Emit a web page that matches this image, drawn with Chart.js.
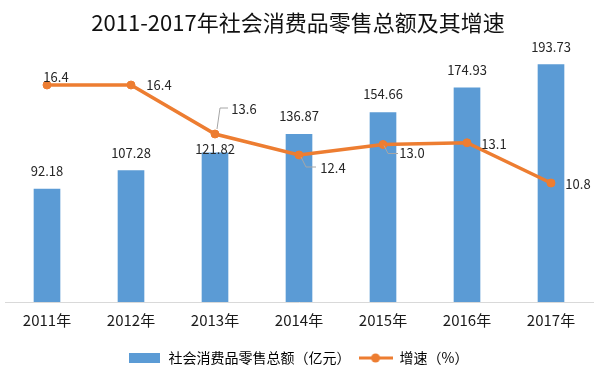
<!DOCTYPE html>
<html>
<head>
<meta charset="utf-8">
<script src="https://cdn.jsdelivr.net/npm/chart.js@4.4.1/dist/chart.umd.min.js"></script>
<style>
    html, body { margin: 0; padding: 0; background: #fff; }
    #caixa { width: 600px; height: 377px; }
</style>
</head>
<body>
<div id="caixa"><canvas id="ChartVendas"></canvas></div>
<script>

/// DADOS

const anos = ['2011年', '2012年', '2013年', '2014年', '2015年', '2016年', '2017年'];
const total_vendas = [92.18, 107.28, 121.82, 136.87, 154.66, 174.93, 193.73];
const crescimento = [16.4, 16.4, 13.6, 12.4, 13.0, 13.1, 10.8];

const nome_barra = '社会消费品零售总额（亿元）';
const nome_linha = '增速（%）';


/// ESTILO

const azul = '#5B9BD5';
const laranja = '#ED7D31';
const fonte = '"Noto Sans CJK SC", "Noto Sans", sans-serif';

// distancia do rotulo acima do topo da barra
const desloc_barra = [18, 18, 4, 18, 18, 18, 18];
// posicao do rotulo em relacao ao ponto da linha
const desloc_linha = [[9, -8], [28, 0], [29, -25], [34, 13], [29, 9], [27, 1], [27, 1]];
// linhas guia (cinza) de alguns rotulos
const guias = [
    null,
    null,
    [[2, -5], [5, -26], [13, -26]],
    [[2, 2], [7, 12], [17, 12]],
    [[1, 1], [5, 9], [15, 9]],
    null,
    null
];

Chart.defaults.font.family = fonte;

function marcador_barra() {
    const c = document.createElement('canvas');
    c.width = 31;
    c.height = 10;
    const g = c.getContext('2d');
    g.fillStyle = azul;
    g.fillRect(0, 0, 31, 10);
    return c;
}

function marcador_linha() {
    const c = document.createElement('canvas');
    c.width = 34;
    c.height = 10;
    const g = c.getContext('2d');
    g.strokeStyle = laranja;
    g.lineWidth = 3;
    g.beginPath();
    g.moveTo(0, 5);
    g.lineTo(34, 5);
    g.stroke();
    g.fillStyle = laranja;
    g.beginPath();
    g.arc(17, 5, 4.5, 0, Math.PI * 2);
    g.fill();
    return c;
}

const rotulos = {
    id: 'rotulos',
    afterDatasetsDraw(chart) {
        const ctx = chart.ctx;
        ctx.save();
        ctx.font = '13px ' + fonte;
        ctx.fillStyle = '#262626';
        ctx.textAlign = 'center';
        ctx.textBaseline = 'middle';

        chart.getDatasetMeta(0).data.forEach(function (barra, i) {
            ctx.fillText(total_vendas[i].toFixed(2), barra.x, barra.y - desloc_barra[i]);
        });

        ctx.strokeStyle = '#a6a6a6';
        ctx.lineWidth = 1;
        chart.getDatasetMeta(1).data.forEach(function (ponto, i) {
            const guia = guias[i];
            if (guia) {
                ctx.beginPath();
                guia.forEach(function (p, k) {
                    if (k === 0) ctx.moveTo(ponto.x + p[0], ponto.y + p[1]);
                    else ctx.lineTo(ponto.x + p[0], ponto.y + p[1]);
                });
                ctx.stroke();
            }
            ctx.fillText(crescimento[i].toFixed(1), ponto.x + desloc_linha[i][0], ponto.y + desloc_linha[i][1]);
        });

        ctx.restore();
    }
};


/// GRAFICO

const grafico = document.getElementById('ChartVendas');

new Chart(grafico, {
    type: 'bar',
    data: {
        labels: anos,
        datasets: [
            {
                type: 'bar',
                label: nome_barra,
                data: total_vendas,
                backgroundColor: azul,
                barThickness: 26,
                yAxisID: 'y',
                order: 1
            },
            {
                type: 'line',
                label: nome_linha,
                data: crescimento,
                borderColor: laranja,
                backgroundColor: laranja,
                borderWidth: 3.5,
                pointRadius: 4,
                pointBorderWidth: 1,
                pointBackgroundColor: laranja,
                pointBorderColor: laranja,
                tension: 0,
                yAxisID: 'y2',
                order: 0
            }
        ]
    },
    options: {
        responsive: true,
        maintainAspectRatio: false,
        animation: false,
        layout: {
            padding: { left: 3, right: 7, top: 0, bottom: 2 }
        },
        scales: {
            x: {
                grid: { display: false },
                border: { display: true, color: '#d9d9d9', width: 1 },
                ticks: {
                    color: '#1a1a1a',
                    padding: 1,
                    font: { size: 15 }
                },
                afterFit: function (scale) {
                    scale.height += 13;
                }
            },
            y: {
                display: false,
                min: 0,
                max: 200
            },
            y2: {
                display: false,
                min: 4,
                max: 18
            }
        },
        plugins: {
            title: {
                display: true,
                text: '2011-2017年社会消费品零售总额及其增速',
                color: '#111',
                font: { size: 22, weight: 'normal' },
                padding: { top: 9, bottom: 21.6 }
            },
            legend: {
                display: true,
                position: 'bottom',
                labels: {
                    color: '#595959',
                    font: { size: 14 },
                    padding: 8,
                    usePointStyle: true,
                    pointStyleWidth: 34,
                    generateLabels: function () {
                        return [
                            { text: nome_barra, pointStyle: marcador_barra(), fillStyle: azul, strokeStyle: azul, lineWidth: 0, datasetIndex: 0 },
                            { text: nome_linha, pointStyle: marcador_linha(), fillStyle: laranja, strokeStyle: laranja, lineWidth: 0, datasetIndex: 1 }
                        ];
                    }
                }
            },
            tooltip: { enabled: false }
        }
    },
    plugins: [rotulos]
});

</script>
</body>
</html>
